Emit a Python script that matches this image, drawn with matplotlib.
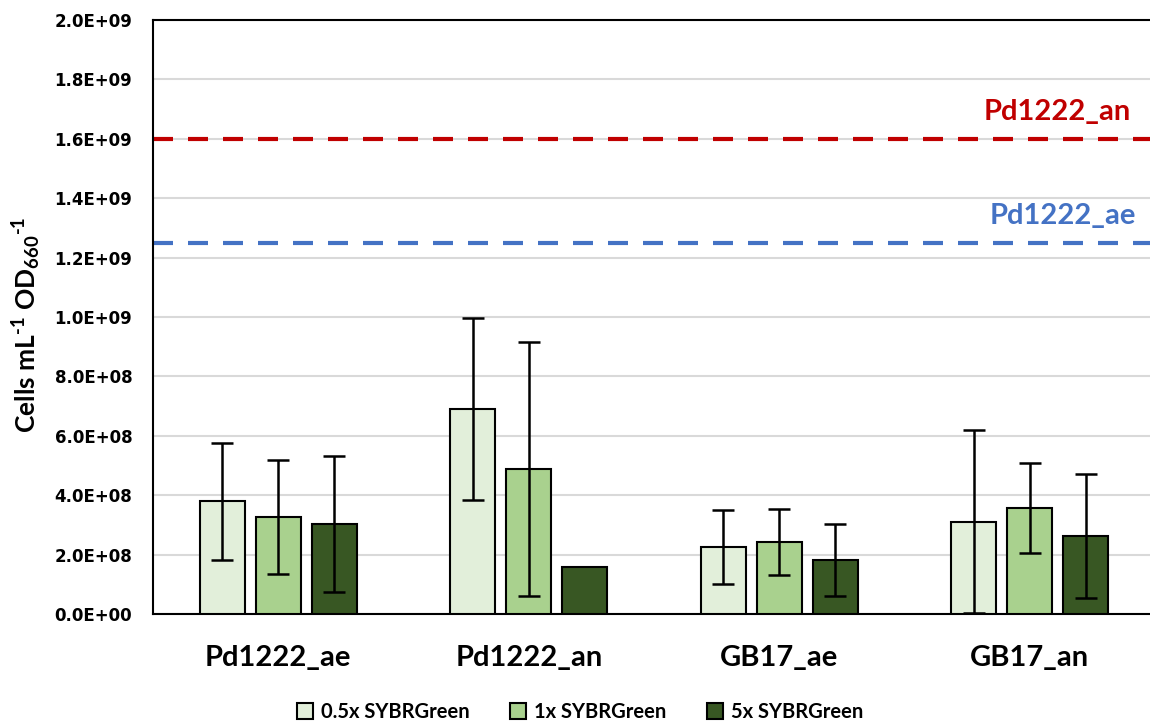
import numpy as np
import matplotlib.pyplot as plt
from matplotlib.patches import Patch

# === Data ===
strains = ["Pd1222_ae", "Pd1222_an", "GB17_ae", "GB17_an"]
series_names = ["0.5x SYBRGreen", "1x SYBRGreen", "5x SYBRGreen"]

mean_05x = [3.80e8, 6.90e8, 2.26e8, 3.10e8]
err_05x = [1.97e8, 3.06e8, 1.25e8, 3.08e8]
mean_1x = [3.27e8, 4.88e8, 2.42e8, 3.57e8]
err_1x = [1.93e8, 4.28e8, 1.10e8, 1.53e8]
mean_5x = [3.03e8, 1.58e8, 1.82e8, 2.63e8]
err_5x = [2.30e8, np.nan, 1.20e8, 2.08e8]

ref_an = 1.60e9
ref_ae = 1.25e9
y_ticks = np.arange(0, 2.01e9, 2e8)

colors = ["#E2EFDA", "#A9D18E", "#385723"]

# === Plot ===
plt.rcParams['mathtext.fontset'] = 'custom'
plt.rcParams['mathtext.rm'] = 'Lato:weight=bold'
plt.rcParams['mathtext.bf'] = 'Lato:weight=bold'
plt.rcParams['mathtext.it'] = 'Lato:weight=bold'

fig = plt.figure(figsize=(11.5, 7.26), dpi=100)
ax = fig.add_axes([153 / 1150, 1 - 614 / 726, 1 - 153 / 1150, (614 - 20) / 726])

x = np.arange(len(strains))
width = 0.18
offset = 0.224
means = [mean_05x, mean_1x, mean_5x]
errs = [err_05x, err_1x, err_5x]

for i in range(3):
    pos = x + (i - 1) * offset
    ax.bar(pos, means[i], width, color=colors[i], edgecolor="black",
           linewidth=1.5, zorder=3)
    e = np.array(errs[i], dtype=float)
    ok = ~np.isnan(e)
    ax.errorbar(pos[ok], np.array(means[i])[ok], yerr=e[ok], fmt="none",
                ecolor="black", elinewidth=1.8, capsize=8, capthick=1.8,
                zorder=4)

ax.axhline(ref_an, color="#C00000", lw=3, linestyle=(0, (4.8, 3.6)), zorder=2)
ax.axhline(ref_ae, color="#4472C4", lw=3, linestyle=(0, (4.8, 3.6)), zorder=2)
ax.text(3.11, 1.69e9, "Pd1222_an", color="#C00000", fontsize=21,
        fontweight="bold", family="Lato", ha="center", va="center")
ax.text(3.13, 1.34e9, "Pd1222_ae", color="#4472C4", fontsize=21,
        fontweight="bold", family="Lato", ha="center", va="center")

ax.set_xlim(-0.5, 3.48)
ax.set_ylim(0, 2.0e9)
ax.set_yticks(y_ticks)
ax.set_yticklabels([f"{v:.1E}" for v in y_ticks], fontsize=12,
                   fontweight="bold", family="DejaVu Sans")
ax.set_xticks(x)
ax.set_xticklabels(strains, fontsize=21, fontweight="bold", family="Lato")
ax.tick_params(axis="both", length=0)
ax.tick_params(axis="y", pad=15)
ax.tick_params(axis="x", pad=22)

ax.yaxis.grid(True, color="#D9D9D9", linewidth=1.5, zorder=0)
ax.set_axisbelow(True)
for s in ["left", "top", "bottom"]:
    ax.spines[s].set_color("black")
    ax.spines[s].set_linewidth(1.5)
ax.spines["right"].set_visible(False)

fig.text(0.0235, 1 - 325 / 726,
         r"Cells mL$^{\text{-1}}$ OD$_{\mathrm{660}}$$^{\text{-1}}$",
         rotation=90, ha="center", va="center", fontsize=19,
         fontweight="bold", family="Lato")

handles = [Patch(facecolor=c, edgecolor="black", linewidth=1.5) for c in colors]
fig.legend(handles, series_names, loc="center", bbox_to_anchor=(580 / 1150, 1 - 712 / 726),
           ncol=3, frameon=False, prop={"family": "Lato", "weight": "bold", "size": 14.5},
           handlelength=0.8, handleheight=0.8, handletextpad=0.4, columnspacing=2.0)

fig.savefig("out.png", dpi=100)
